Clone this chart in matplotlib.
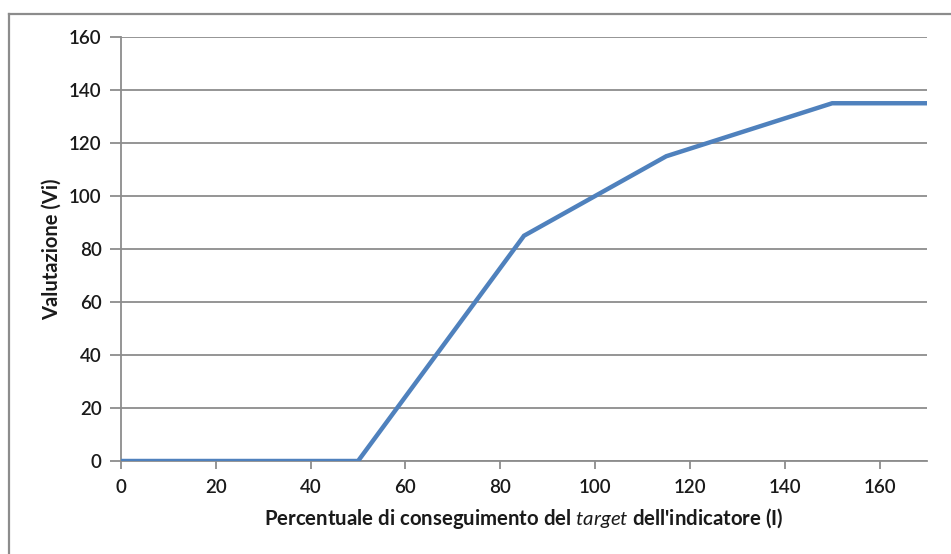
import matplotlib
matplotlib.use("Agg")
import matplotlib.pyplot as plt
from matplotlib.lines import Line2D

# ---- data ----
x_pct = [0, 50, 85, 115, 150, 170]
y_val = [0, 0, 85, 115, 135, 135]
x_ticks = [0, 20, 40, 60, 80, 100, 120, 140, 160]
y_ticks = [0, 20, 40, 60, 80, 100, 120, 140, 160]

plt.rcParams["font.family"] = ["Lato", "DejaVu Sans"]
plt.rcParams["mathtext.fontset"] = "custom"
plt.rcParams["mathtext.it"] = "Lato:italic"
plt.rcParams["mathtext.rm"] = "Lato:bold"

grid_col = "#8c8c8c"
txt_col = "#1a1a1a"

fig = plt.figure(figsize=(9.51, 5.54), dpi=100)
ax = fig.add_axes([121 / 951, 1 - 461 / 554, (927 - 121) / 951, (461 - 37) / 554])

ax.plot(x_pct, y_val, color="#4f81bd", linewidth=3.2, solid_joinstyle="miter",
        solid_capstyle="butt", zorder=3)

ax.set_xlim(0, 170)
ax.set_ylim(0, 160)
ax.set_xticks(x_ticks)
ax.set_yticks(y_ticks)
ax.yaxis.grid(True, color=grid_col, linewidth=1.3)
ax.set_axisbelow(True)

for s in ["top", "right"]:
    ax.spines[s].set_visible(False)
for s in ["left", "bottom"]:
    ax.spines[s].set_color(grid_col)
    ax.spines[s].set_linewidth(1.3)

ax.tick_params(axis="both", colors=grid_col, labelcolor=txt_col,
               labelsize=13.5, width=1.3)
ax.tick_params(axis="y", length=8, pad=6)
ax.tick_params(axis="x", length=6, pad=7)
for lab in ax.get_xticklabels() + ax.get_yticklabels():
    lab.set_fontweight("semibold")

ax.set_xlabel(r"Percentuale di conseguimento del $\mathit{target}$ dell'indicatore (I)",
              fontsize=14.7, fontweight="bold", color=txt_col, labelpad=7)
ax.set_ylabel("Valutazione (Vi)", fontsize=14.5, fontweight="bold",
              color=txt_col, labelpad=5)

# outer chart frame (cut at right and bottom)
fig.add_artist(Line2D([8.5 / 951, 8.5 / 951], [0, 1 - 13.5 / 554],
                      color=grid_col, linewidth=1.6, transform=fig.transFigure))
fig.add_artist(Line2D([8.5 / 951, 1], [1 - 13.5 / 554, 1 - 13.5 / 554],
                      color=grid_col, linewidth=1.6, transform=fig.transFigure))

fig.savefig("out.png", dpi=100)
